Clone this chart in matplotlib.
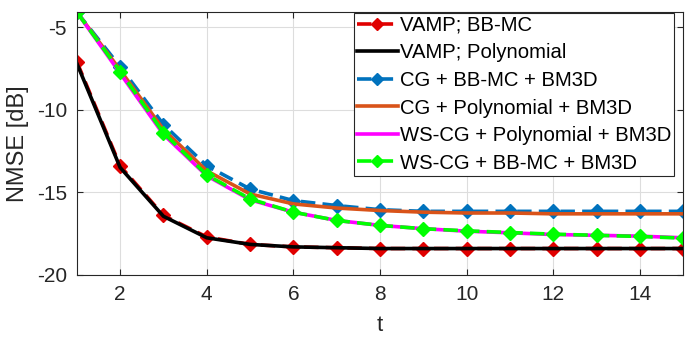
import matplotlib
matplotlib.use('Agg')
import matplotlib.pyplot as plt

plt.rcParams['font.family'] = ['Liberation Sans', 'DejaVu Sans']
plt.rcParams['axes.unicode_minus'] = False

# iterations
t = list(range(1, 16))

# NMSE [dB] per method
vamp_bbmc = [-7.1, -13.4, -16.4, -17.7, -18.15, -18.3, -18.35, -18.4, -18.4, -18.4, -18.4, -18.4, -18.4, -18.4, -18.4]
vamp_poly = [-7.2, -13.5, -16.45, -17.75, -18.15, -18.3, -18.35, -18.4, -18.4, -18.4, -18.4, -18.4, -18.4, -18.4, -18.4]
cg_bbmc = [-4.1, -7.4, -10.9, -13.4, -14.8, -15.5, -15.8, -16.05, -16.15, -16.15, -16.15, -16.15, -16.15, -16.15, -16.15]
cg_poly = [-4.1, -7.6, -11.2, -13.7, -15.1, -15.7, -15.95, -16.1, -16.2, -16.25, -16.25, -16.3, -16.3, -16.3, -16.3]
wscg_poly = [-4.1, -7.8, -11.5, -14.0, -15.45, -16.2, -16.7, -17.0, -17.2, -17.35, -17.45, -17.55, -17.6, -17.65, -17.75]
wscg_bbmc = [-4.1, -7.7, -11.4, -13.95, -15.4, -16.2, -16.7, -17.0, -17.2, -17.33, -17.43, -17.53, -17.6, -17.67, -17.77]

labels = ['VAMP; BB-MC', 'VAMP; Polynomial', 'CG + BB-MC + BM3D',
          'CG + Polynomial + BM3D', 'WS-CG + Polynomial + BM3D', 'WS-CG + BB-MC + BM3D']

fig = plt.figure(figsize=(6.86, 3.37), dpi=100)
ax = fig.add_axes([0.112, 0.184, 0.884, 0.780])

lw = 2.6
ms = 7.5
dash = (4, 2)
ax.plot(t, vamp_bbmc, '--', dashes=dash, color='#e00000', lw=lw, marker='D', ms=ms, label=labels[0])
ax.plot(t, vamp_poly, '-', color='black', lw=lw, label=labels[1])
ax.plot(t, cg_bbmc, '--', dashes=dash, color='#0072bd', lw=lw, marker='D', ms=ms, label=labels[2])
ax.plot(t, cg_poly, '-', color='#d95319', lw=lw, label=labels[3])
ax.plot(t, wscg_poly, '-', color='#ff00ff', lw=lw, label=labels[4])
ax.plot(t, wscg_bbmc, '--', dashes=dash, color='#00ff00', lw=lw, marker='D', ms=ms, label=labels[5])

ax.set_xlim(1, 15)
ax.set_ylim(-20, -4.1)
ax.set_xticks([2, 4, 6, 8, 10, 12, 14])
ax.set_yticks([-20, -15, -10, -5])
ax.tick_params(direction='in', top=True, right=True, labelsize=15, colors='#262626',
               length=4, pad=7)
ax.grid(True, color='#dddddd', lw=0.8)
for s in ax.spines.values():
    s.set_color('#262626')
    s.set_linewidth(0.8)

ax.set_xlabel('t', fontsize=16, color='#262626', labelpad=8)
ax.set_ylabel('NMSE [dB]', fontsize=17, color='#262626', labelpad=6)

leg = ax.legend(loc='upper right', bbox_to_anchor=(0.985, 0.997), fontsize=14.6,
                handlelength=2.0, handletextpad=0.1, labelspacing=0.42, borderpad=0.15,
                borderaxespad=0, fancybox=False, framealpha=1, edgecolor='#262626',
                markerscale=0.8)
leg.get_frame().set_linewidth(0.8)

fig.savefig('out.png', dpi=100)
